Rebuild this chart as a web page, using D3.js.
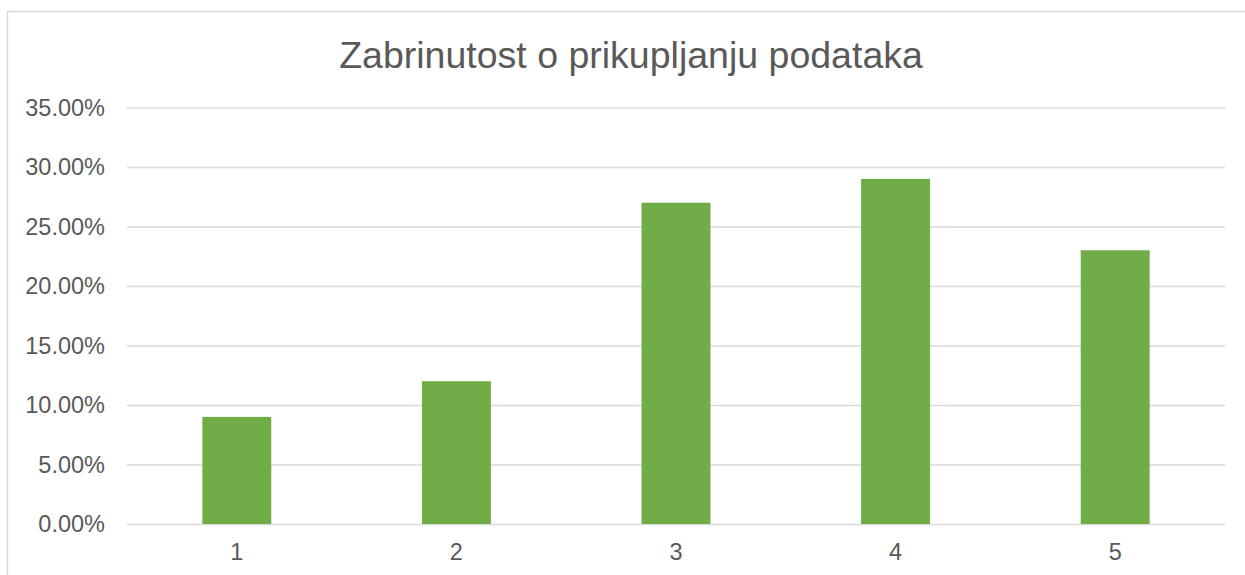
<!DOCTYPE html>
<html>
<head>
<meta charset="utf-8">
<script src="https://cdn.jsdelivr.net/npm/d3@7"></script>
<style>
  body { margin: 0; background: #fff; }
  svg { display: block; font-family: "Liberation Sans", Arial, sans-serif; }
</style>
</head>
<body>
<svg id="chart" width="1245" height="575"></svg>
<script>
const title = 'Zabrinutost o prikupljanju podataka';
const categories = ['1', '2', '3', '4', '5'];
const values = [0.09, 0.12, 0.27, 0.29, 0.23];
const yTicks = [0, 0.05, 0.10, 0.15, 0.20, 0.25, 0.30, 0.35];

const BAR_FILL = '#70ad47';
const GRID = '#d9d9d9';
const TEXT_FILL = '#595959';

const svg = d3.select('#chart');
const margin = { left: 127, right: 20, top: 107.5, bottom: 51 };

// chart border
svg.append('rect')
  .attr('x', 7.5).attr('y', 11.5)
  .attr('width', 1260).attr('height', 600)
  .attr('fill', 'none')
  .attr('stroke', GRID)
  .attr('stroke-width', 1.5);

svg.append('text')
  .attr('x', 631).attr('y', 68)
  .attr('text-anchor', 'middle')
  .attr('fill', TEXT_FILL)
  .attr('font-size', '37.5px')
  .text(title);

const x = d3.scaleBand()
  .domain(categories)
  .range([margin.left, 1225])
  .paddingInner(0.686)
  .paddingOuter(0.343);

const y = d3.scaleLinear()
  .domain([0, 0.35])
  .range([524, margin.top]);

const yAxis = d3.axisLeft(y)
  .tickValues(yTicks)
  .tickFormat(d3.format('.2%'))
  .tickSize(-(1225 - margin.left))
  .tickPadding(22);

const gy = svg.append('g')
  .attr('transform', `translate(${margin.left},0)`)
  .call(yAxis);
gy.select('.domain').remove();
gy.selectAll('line').attr('stroke', GRID).attr('stroke-width', 1.5);
gy.selectAll('text')
  .attr('fill', TEXT_FILL)
  .attr('font-size', '23.5px')
  .attr('font-family', '"Liberation Sans", Arial, sans-serif');

svg.append('g')
  .selectAll('rect')
  .data(values)
  .enter()
  .append('rect')
  .attr('x', (d, i) => x(categories[i]))
  .attr('y', d => y(d))
  .attr('width', x.bandwidth())
  .attr('height', d => y(0) - y(d))
  .attr('fill', BAR_FILL);

const xAxis = d3.axisBottom(x).tickSize(0).tickPadding(19);
const gx = svg.append('g')
  .attr('transform', 'translate(0,524)')
  .call(xAxis);
gx.select('.domain').remove();
gx.selectAll('text')
  .attr('fill', TEXT_FILL)
  .attr('font-size', '23.5px')
  .attr('font-family', '"Liberation Sans", Arial, sans-serif');
</script>
</body>
</html>
